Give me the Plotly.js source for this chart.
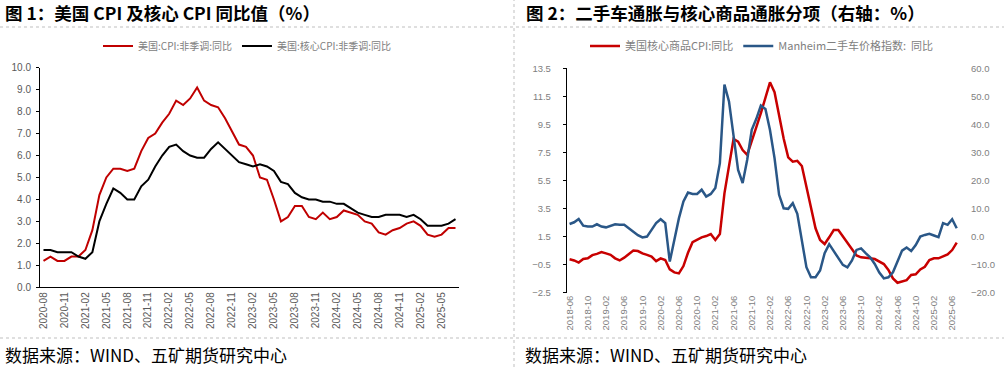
<!DOCTYPE html>
<html>
<head>
<meta charset="utf-8">
<script src="https://cdn.plot.ly/plotly-3.0.1.min.js"></script>
<style>
  html, body { margin: 0; padding: 0; background: #ffffff; }
  #chart { width: 1004px; height: 367px; }
</style>
</head>
<body>
<div id="chart"></div>
<script>
// ---------- Chart 1: US CPI & core CPI YoY (%) ----------
const leftMonths = [
  '2020-08','2020-09','2020-10','2020-11','2020-12',
  '2021-01','2021-02','2021-03','2021-04','2021-05','2021-06','2021-07','2021-08','2021-09','2021-10','2021-11','2021-12',
  '2022-01','2022-02','2022-03','2022-04','2022-05','2022-06','2022-07','2022-08','2022-09','2022-10','2022-11','2022-12',
  '2023-01','2023-02','2023-03','2023-04','2023-05','2023-06','2023-07','2023-08','2023-09','2023-10','2023-11','2023-12',
  '2024-01','2024-02','2024-03','2024-04','2024-05','2024-06','2024-07','2024-08','2024-09','2024-10','2024-11','2024-12',
  '2025-01','2025-02','2025-03','2025-04','2025-05','2025-06','2025-07'
];
const cpiYoY = [
  1.2,1.4,1.2,1.2,1.4,
  1.4,1.7,2.6,4.2,5.0,5.4,5.4,5.3,5.4,6.2,6.8,7.0,
  7.5,7.9,8.5,8.3,8.6,9.1,8.5,8.3,8.2,7.7,7.1,6.5,
  6.4,6.0,5.0,4.9,4.0,3.0,3.2,3.7,3.7,3.2,3.1,3.4,
  3.1,3.2,3.5,3.4,3.3,3.0,2.9,2.5,2.4,2.6,2.7,2.9,
  3.0,2.8,2.4,2.3,2.4,2.7,2.7
];
const coreCpiYoY = [
  1.7,1.7,1.6,1.6,1.6,
  1.4,1.3,1.6,3.0,3.8,4.5,4.3,4.0,4.0,4.6,4.9,5.5,
  6.0,6.4,6.5,6.2,6.0,5.9,5.9,6.3,6.6,6.3,6.0,5.7,
  5.6,5.5,5.6,5.5,5.3,4.8,4.7,4.3,4.1,4.0,4.0,3.9,
  3.9,3.8,3.8,3.6,3.4,3.3,3.2,3.2,3.3,3.3,3.3,3.2,
  3.3,3.1,2.8,2.8,2.8,2.9,3.1
];
const leftTicks = ['2020-08','2020-11','2021-02','2021-05','2021-08','2021-11','2022-02','2022-05','2022-08','2022-11',
  '2023-02','2023-05','2023-08','2023-11','2024-02','2024-05','2024-08','2024-11','2025-02','2025-05'];

// ---------- Chart 2: Used cars vs core goods inflation ----------
const rightMonths = [
  '2018-06','2018-07','2018-08','2018-09','2018-10','2018-11','2018-12',
  '2019-01','2019-02','2019-03','2019-04','2019-05','2019-06','2019-07','2019-08','2019-09','2019-10','2019-11','2019-12',
  '2020-01','2020-02','2020-03','2020-04','2020-05','2020-06','2020-07','2020-08','2020-09','2020-10','2020-11','2020-12',
  '2021-01','2021-02','2021-03','2021-04','2021-05','2021-06','2021-07','2021-08','2021-09','2021-10','2021-11','2021-12',
  '2022-01','2022-02','2022-03','2022-04','2022-05','2022-06','2022-07','2022-08','2022-09','2022-10','2022-11','2022-12',
  '2023-01','2023-02','2023-03','2023-04','2023-05','2023-06','2023-07','2023-08','2023-09','2023-10','2023-11','2023-12',
  '2024-01','2024-02','2024-03','2024-04','2024-05','2024-06','2024-07','2024-08','2024-09','2024-10','2024-11','2024-12',
  '2025-01','2025-02','2025-03','2025-04','2025-05','2025-06','2025-07'
];
const coreGoodsYoY = [
  -0.12,-0.2,-0.35,-0.1,-0.05,0.18,0.27,
  0.4,0.3,0.2,-0.05,-0.2,0.0,0.25,0.5,0.47,0.3,0.2,0.07,
  -0.25,-0.05,-0.17,-0.84,-1.05,-1.12,-0.6,0.35,1.1,1.26,1.45,1.54,
  1.68,1.26,1.68,4.58,6.53,8.46,8.27,7.67,7.32,8.39,9.3,10.3,
  11.5,12.5,11.8,10.05,8.5,7.15,6.84,6.9,6.53,5.06,3.63,2.09,
  1.26,0.97,1.45,1.97,1.97,1.5,1.02,0.55,0.15,0.02,0.0,-0.05,
  -0.1,-0.31,-0.46,-0.88,-1.48,-1.79,-1.72,-1.6,-1.24,-1.19,-0.84,-0.65,
  -0.17,-0.05,-0.05,0.09,0.23,0.54,1.07
];
const manheimYoY = [
  4.5,5.1,6.3,3.9,3.6,3.6,4.4,
  3.6,3.3,3.9,4.4,4.2,4.2,3.0,1.7,0.5,-0.3,0.0,2.4,
  4.8,6.2,4.8,-8.9,-1.2,6.5,12.5,15.7,15.2,15.2,16.7,14.3,
  15.2,17.3,26.2,54.2,48.2,36.3,23.8,19.1,27.4,38.1,42.0,46.7,
  45.5,38.0,28.0,14.9,10.1,9.9,11.9,8.1,-1.2,-10.9,-14.5,-14.5,
  -12.1,-5.9,-2.7,-5.3,-8.0,-10.1,-11.0,-8.5,-4.75,-4.2,-5.9,-7.4,
  -9.75,-12.8,-14.9,-14.5,-12.7,-8.9,-5.0,-3.9,-5.1,-3.0,0.0,0.6,
  1.0,0.4,-0.2,4.8,4.2,6.2,3.0
];
const rightTicks = ['2018-06','2018-10','2019-02','2019-06','2019-10','2020-02','2020-06','2020-10','2021-02','2021-06','2021-10',
  '2022-02','2022-06','2022-10','2023-02','2023-06','2023-10','2024-02','2024-06','2024-10','2025-02','2025-06'];

// ---------- layout helpers (positions only) ----------
const W = 1004, H = 367;
const px = v => v / W;
const py = v => 1 - v / H;

function boundaries(n, step) {
  const out = [];
  for (let k = -0.5; k <= n - 0.5 + 1e-9; k += step) out.push(k);
  return out;
}

const FONT = 'Liberation Sans, Arial, Noto Sans CJK SC, sans-serif';
const CJK = 'Noto Sans CJK SC, sans-serif';

const traces = [
  { x: leftMonths, y: cpiYoY, name: '美国:CPI:非季调:同比', type: 'scatter', mode: 'lines',
    line: { color: '#C00000', width: 2 }, xaxis: 'x', yaxis: 'y', legend: 'legend', hoverinfo: 'skip' },
  { x: leftMonths, y: coreCpiYoY, name: '美国:核心CPI:非季调:同比', type: 'scatter', mode: 'lines',
    line: { color: '#000000', width: 2 }, xaxis: 'x', yaxis: 'y', legend: 'legend', hoverinfo: 'skip' },
  { x: rightMonths, y: coreGoodsYoY, name: '美国核心商品CPI:同比', type: 'scatter', mode: 'lines',
    line: { color: '#C80000', width: 2.5 }, xaxis: 'x2', yaxis: 'y2', legend: 'legend2', hoverinfo: 'skip' },
  { x: rightMonths, y: manheimYoY, name: 'Manheim二手车价格指数:  同比', type: 'scatter', mode: 'lines',
    line: { color: '#2A5787', width: 2.5 }, xaxis: 'x2', yaxis: 'y3', legend: 'legend2', hoverinfo: 'skip' }
];

const leftDomX = [px(40), px(459)];
const leftDomY = [py(287.3), py(67.7)];
const rightDomX = [px(567.3), px(959)];
const rightDomY = [py(292.7), py(68.3)];
const zeroPos = rightDomY[0] + (rightDomY[1] - rightDomY[0]) * (2.5 / 16);

const tickFontL = { family: FONT, size: 10, color: '#595959' };
const tickFontR = { family: FONT, size: 9.5, color: '#808080' };

const layout = {
  width: W, height: H,
  margin: { l: 0, r: 0, t: 0, b: 0, pad: 0 },
  paper_bgcolor: '#ffffff', plot_bgcolor: 'rgba(0,0,0,0)',
  font: { family: FONT },
  showlegend: true,
  xaxis: {
    domain: leftDomX, anchor: 'y', type: 'category', range: [-0.5, leftMonths.length - 0.5],
    tickmode: 'array', tickvals: leftTicks, ticktext: leftTicks, tickangle: -90,
    ticks: '', showline: true, linecolor: '#000', linewidth: 1,
    showgrid: false, zeroline: false, tickfont: tickFontL, fixedrange: true
  },
  xaxis4: {
    overlaying: 'x', anchor: 'y', type: 'linear', range: [-0.5, leftMonths.length - 0.5],
    tickmode: 'array', tickvals: boundaries(leftMonths.length, 3), ticks: 'outside', ticklen: 4,
    tickcolor: '#000', tickwidth: 1, showticklabels: false, showline: false, showgrid: false, zeroline: false
  },
  yaxis: {
    domain: leftDomY, anchor: 'x', range: [0, 10], tickmode: 'linear', tick0: 0, dtick: 1,
    tickformat: '.1f', ticks: 'outside', ticklen: 3, tickcolor: '#000', showline: true, linecolor: '#000',
    linewidth: 1, showgrid: false, zeroline: false, tickfont: tickFontL, ticklabelstandoff: 3
  },
  xaxis2: {
    domain: rightDomX, anchor: 'y2', type: 'category', range: [-0.5, rightMonths.length - 0.5],
    tickmode: 'array', tickvals: rightTicks, ticktext: rightTicks, tickangle: -90,
    ticks: '', showline: false, showgrid: false, zeroline: false, tickfont: tickFontR
  },
  xaxis3: {
    overlaying: 'x2', anchor: 'free', position: zeroPos, type: 'linear', range: [-0.5, rightMonths.length - 0.5],
    tickmode: 'array', tickvals: boundaries(rightMonths.length, 4), ticks: 'outside', ticklen: 3,
    tickcolor: '#000', tickwidth: 1, showticklabels: false, showline: true, linecolor: '#000', linewidth: 1.5,
    showgrid: false, zeroline: false
  },
  yaxis2: {
    domain: rightDomY, anchor: 'x2', range: [-2.5, 13.5], tickmode: 'linear', tick0: -2.5, dtick: 2,
    tickformat: '.1f', ticks: 'outside', ticklen: 3, tickcolor: '#000', showline: true, linecolor: '#000',
    linewidth: 1.5, showgrid: false, zeroline: false, tickfont: tickFontR, ticklabelstandoff: 10
  },
  yaxis3: {
    overlaying: 'y2', side: 'right', anchor: 'x2', range: [-20, 60], tickmode: 'linear', tick0: -20, dtick: 10,
    tickformat: '.1f', ticks: '', showline: false, showgrid: false, zeroline: false,
    tickfont: tickFontR, ticklabelstandoff: 11
  },
  legend: {
    orientation: 'h', x: px(98), xanchor: 'left', y: py(46), yanchor: 'middle',
    font: { family: CJK, size: 10, color: '#808080' }, bgcolor: 'rgba(0,0,0,0)', itemwidth: 30,
    tracegroupgap: 0
  },
  legend2: {
    orientation: 'h', x: px(585), xanchor: 'left', y: py(46), yanchor: 'middle',
    font: { family: CJK, size: 11, color: '#808080' }, bgcolor: 'rgba(0,0,0,0)', itemwidth: 30
  },
  annotations: [
    { text: '<b>图 1：美国 CPI 及核心 CPI 同比值（%）</b>', xref: 'paper', yref: 'paper', x: px(3), y: py(13),
      xanchor: 'left', yanchor: 'middle', showarrow: false, font: { family: CJK, size: 17.5, color: '#000' } },
    { text: '<b>图 2：二手车通胀与核心商品通胀分项（右轴：%）</b>', xref: 'paper', yref: 'paper', x: px(524), y: py(13),
      xanchor: 'left', yanchor: 'middle', showarrow: false, font: { family: CJK, size: 17.5, color: '#000' } },
    { text: '数据来源：WIND、五矿期货研究中心', xref: 'paper', yref: 'paper', x: px(3), y: py(354),
      xanchor: 'left', yanchor: 'middle', showarrow: false, font: { family: CJK, size: 17, color: '#000' } },
    { text: '数据来源：WIND、五矿期货研究中心', xref: 'paper', yref: 'paper', x: px(523), y: py(354),
      xanchor: 'left', yanchor: 'middle', showarrow: false, font: { family: CJK, size: 17, color: '#000' } }
  ],
  shapes: [
    { type: 'line', xref: 'paper', yref: 'paper', x0: 0, x1: 1, y0: py(27), y1: py(27),
      line: { color: '#bfbfbf', width: 1, dash: 'dot' } },
    { type: 'line', xref: 'paper', yref: 'paper', x0: 0, x1: 1, y0: py(338), y1: py(338),
      line: { color: '#bfbfbf', width: 1, dash: 'dot' } },
    { type: 'line', xref: 'paper', yref: 'paper', x0: px(514), x1: px(514), y0: 0, y1: 1,
      line: { color: '#bfbfbf', width: 1, dash: 'dot' } }
  ]
};

Plotly.newPlot('chart', traces, layout, { staticPlot: true, displayModeBar: false });
</script>
</body>
</html>
